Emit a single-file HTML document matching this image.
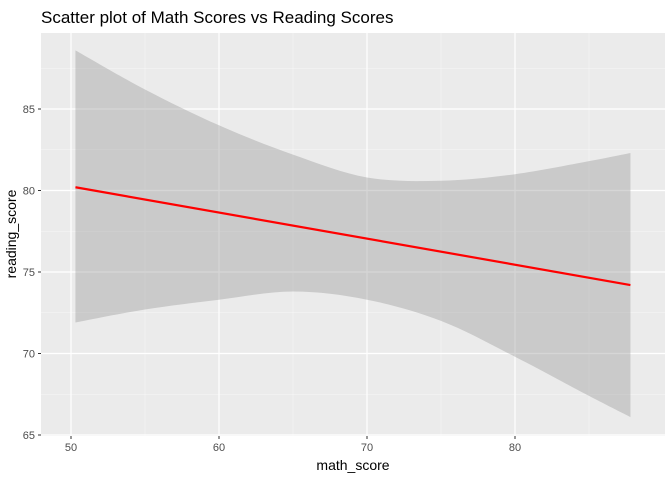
<!DOCTYPE html>
<html><head><meta charset="utf-8"><style>
body{margin:0;background:#fff;}
svg{display:block;font-family:"Liberation Sans",Arial,sans-serif;}
</style></head><body>
<svg id="chart" width="672" height="480">
<text x="41" y="23" font-size="17" fill="#000">Scatter plot of Math Scores vs Reading Scores</text>
<rect x="41" y="33" width="624" height="403" fill="#ebebeb"/>
<g id="grid"></g>
<g id="marks"></g>
<g id="axes"></g>
<text x="353" y="470" font-size="14" text-anchor="middle" fill="#000">math_score</text>
<text transform="translate(16,234) rotate(-90)" font-size="14" text-anchor="middle" fill="#000">reading_score</text>
</svg>
<script>
const bandX=[50.3,55,60,65,70,75,80,85,87.8];
const bandUpper=[88.6,86.2,84.0,82.2,80.8,80.6,81.0,81.8,82.3];
const bandLower=[71.9,72.7,73.3,73.8,73.3,72.0,69.8,67.4,66.1];
const fitX=[50.3,87.8];
const fitY=[80.2,74.2];
const xTicks=[50,60,70,80];
const yTicks=[65,70,75,80,85];
const xMinor=[55,65,75,85];
const yMinor=[67.5,72.5,77.5,82.5,87.5];
const px0=41,px1=665,py0=33,py1=436;
function sx(v){return 71+(v-50)*14.8;}
function sy(v){return 435-(v-65)*16.3;}
const NS="http://www.w3.org/2000/svg";
function mk(t,a,p){const e=document.createElementNS(NS,t);for(const k in a)e.setAttribute(k,a[k]);p.appendChild(e);return e;}
function smooth(pts,start){
  let d=(start?'M':'L')+pts[0][0]+','+pts[0][1];
  for(let i=0;i<pts.length-1;i++){
    const p0=pts[i-1]||pts[i],p1=pts[i],p2=pts[i+1],p3=pts[i+2]||p2;
    const c1=[p1[0]+(p2[0]-p0[0])/6,p1[1]+(p2[1]-p0[1])/6];
    const c2=[p2[0]-(p3[0]-p1[0])/6,p2[1]-(p3[1]-p1[1])/6];
    d+='C'+c1[0]+','+c1[1]+' '+c2[0]+','+c2[1]+' '+p2[0]+','+p2[1];
  }
  return d;
}
const grid=document.getElementById('grid'),marks=document.getElementById('marks'),axes=document.getElementById('axes');
xMinor.forEach(v=>{const l=mk('line',{x1:sx(v),x2:sx(v),y1:py0,y2:py1,stroke:'#f7f7f7','stroke-width':0.6},grid);

});
yMinor.forEach(v=>{if(sy(v)<py0)return;const l=mk('line',{x1:px0,x2:px1,y1:sy(v),y2:sy(v),stroke:'#f7f7f7','stroke-width':0.6},grid);

});
xTicks.forEach(v=>{const l=mk('line',{x1:sx(v),x2:sx(v),y1:py0,y2:py1,stroke:'#fff','stroke-width':1.2},grid);


mk('line',{x1:sx(v),x2:sx(v),y1:py1,y2:py1+3,stroke:'#333'},axes);
const t=mk('text',{x:sx(v),y:py1+15,'font-size':11,'text-anchor':'middle',fill:'#4d4d4d'},axes);t.textContent=v;

});
yTicks.forEach(v=>{const l=mk('line',{x1:px0,x2:px1,y1:sy(v),y2:sy(v),stroke:'#fff','stroke-width':1.2},grid);


mk('line',{x1:px0-3,x2:px0,y1:sy(v),y2:sy(v),stroke:'#333'},axes);
const t=mk('text',{x:px0-6,y:sy(v)+4,'font-size':11,'text-anchor':'end',fill:'#4d4d4d'},axes);t.textContent=v;

});
const up=bandX.map((x,i)=>[sx(x),sy(bandUpper[i])]);
const lo=bandX.map((x,i)=>[sx(x),sy(bandLower[i])]).reverse();
const d=smooth(up,true)+smooth(lo,false)+'Z';
const band=mk('path',{d:d,fill:'#999','fill-opacity':0.4},marks);


let ld='';fitX.forEach((x,i)=>{ld+=(i?'L':'M')+sx(x)+','+sy(fitY[i]);});
const fl=mk('path',{d:ld,stroke:'#ff0000','stroke-width':2.2,fill:'none'},marks);


</script>
</body></html>
